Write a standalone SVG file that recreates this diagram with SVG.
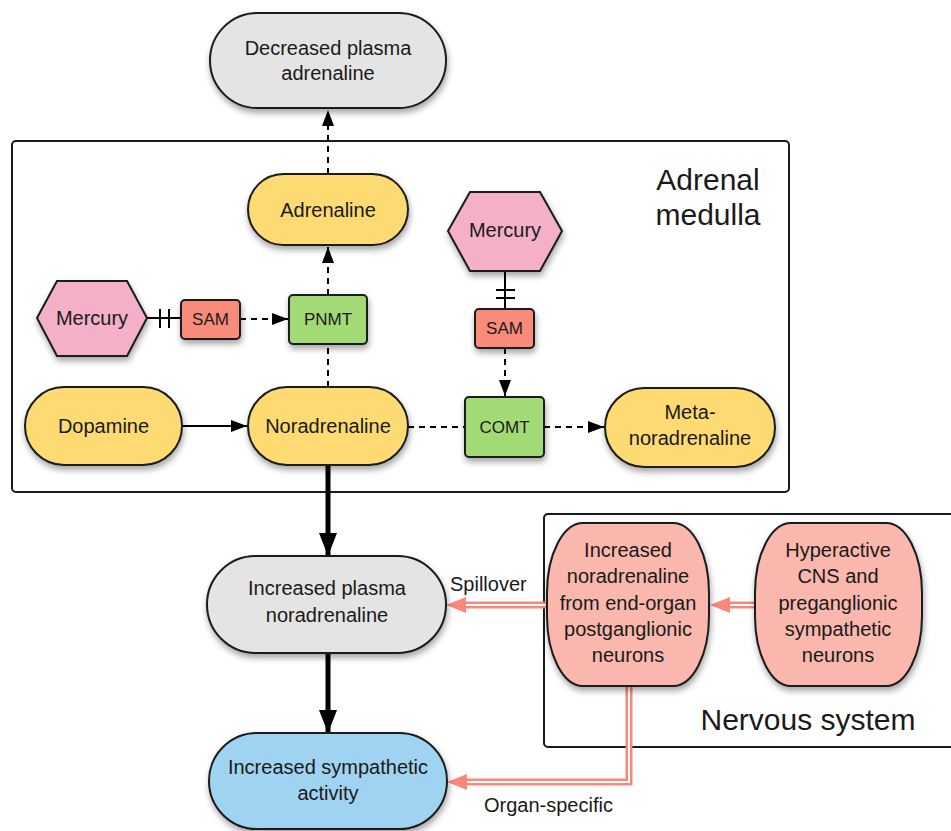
<svg xmlns="http://www.w3.org/2000/svg" width="951" height="831" viewBox="0 0 951 831">
<defs>
<filter id="sh" x="-20%" y="-20%" width="140%" height="150%">
<feDropShadow dx="1" dy="4" stdDeviation="3" flood-color="#000" flood-opacity="0.35"/>
</filter>
<marker id="ah" viewBox="0 0 16 12" refX="16" refY="6" markerWidth="16" markerHeight="12" markerUnits="userSpaceOnUse" orient="auto">
<path d="M0,0 L16,6 L0,12 z" fill="#000"/>
</marker>
<marker id="ahb" viewBox="0 0 20 20" refX="20" refY="10" markerWidth="23" markerHeight="18" markerUnits="userSpaceOnUse" orient="auto" preserveAspectRatio="none">
<path d="M0,0 L20,10 L0,20 z" fill="#000"/>
</marker>
</defs>
<style>
text{font-family:"Liberation Sans",Arial,sans-serif;fill:#1a1a1a;text-anchor:middle}
.n{font-size:20px}
.s{font-size:17px}
.big{font-size:30px}
.lbl{font-size:20px;text-anchor:start}
.node{stroke:#1a1a1a;stroke-width:2;filter:url(#sh)}
.yel{fill:#fdda72}
.gry{fill:#e4e4e4}
.pink{fill:#f3b0c8}
.sam{fill:#f98b7a}
.grn{fill:#a2da76}
.blu{fill:#9fd3f1}
.sal{fill:#f9b7ad}
.box{fill:none;stroke:#1a1a1a;stroke-width:2}
.dash{fill:none;stroke:#000;stroke-width:2;stroke-dasharray:6,5}
.sol{fill:none;stroke:#000;stroke-width:2}
.thick{fill:none;stroke:#000;stroke-width:5}
.po{fill:none;stroke:#f7887a;stroke-width:7}
.pi{fill:none;stroke:#fff;stroke-width:2}
</style>

<rect class="box" x="12" y="141" width="777" height="351" rx="4"/>
<text class="big" x="708" y="190">Adrenal</text>
<text class="big" x="708" y="225">medulla</text>
<rect class="box" x="544" y="514" width="420" height="233" rx="4"/>
<text class="big" x="808" y="730">Nervous system</text>

<g id="connectors">
<path class="dash" d="M328,174 V110" marker-end="url(#ah)"/>
<path class="dash" d="M328,387 V344"/>
<path class="dash" d="M328,295 V247" marker-end="url(#ah)"/>
<path class="sol" d="M147,318 H181"/>
<path class="sol" d="M160,309 V328 M169,309 V328"/>
<path class="dash" d="M240,319 H288" marker-end="url(#ah)"/>
<path class="sol" d="M182,426 H247" marker-end="url(#ah)"/>
<path class="dash" d="M408,427 H465"/>
<path class="dash" d="M544,427 H604" marker-end="url(#ah)"/>
<path class="sol" d="M505,271 V309"/>
<path class="sol" d="M496,290 H515 M496,298 H515"/>
<path class="dash" d="M505,348 V396" marker-end="url(#ah)"/>
<path class="thick" d="M328,465 V556" marker-end="url(#ahb)"/>
<path class="thick" d="M328,653 V733" marker-end="url(#ahb)"/>
<path class="po" d="M547,605 H462"/>
<path class="pi" d="M547,605 H462"/>
<path d="M446,605 L466,597 L466,613 z" fill="#f7887a"/>
<path class="po" d="M755,605 H725"/>
<path class="pi" d="M755,605 H725"/>
<path d="M710,605 L730,597 L730,613 z" fill="#f7887a"/>
<path class="po" d="M629,686 V782 H463"/>
<path class="pi" d="M629,686 V782 H463"/>
<path d="M447,782 L467,774 L467,790 z" fill="#f7887a"/>
<text class="lbl" x="450" y="591">Spillover</text>
<text class="lbl" x="484" y="812">Organ-specific</text>
</g>

<g id="decreased-plasma-adrenaline">
<rect class="node gry" x="210" y="13" width="236" height="95" rx="47.5"/>
<text class="n" x="328" y="55">Decreased plasma</text>
<text class="n" x="328" y="80">adrenaline</text>
</g>
<g id="adrenaline">
<rect class="node yel" x="248" y="174" width="160" height="71" rx="35.5"/>
<text class="n" x="328" y="217">Adrenaline</text>
</g>
<g id="mercury-left">
<polygon class="node pink" points="37,318 57,281 127,281 147,318 127,356 57,356"/>
<text class="n" x="92" y="325">Mercury</text>
</g>
<g id="sam-left">
<rect class="node sam" x="181" y="300" width="59" height="39" rx="4"/>
<text class="s" x="210.5" y="325">SAM</text>
</g>
<g id="pnmt">
<rect class="node grn" x="289" y="295" width="78" height="49" rx="4"/>
<text class="s" x="328" y="325">PNMT</text>
</g>
<g id="dopamine">
<rect class="node yel" x="25" y="387" width="157" height="78" rx="39"/>
<text class="n" x="103.5" y="433">Dopamine</text>
</g>
<g id="noradrenaline">
<rect class="node yel" x="248" y="387" width="160" height="78" rx="39"/>
<text class="n" x="328" y="433">Noradrenaline</text>
</g>
<g id="mercury-right">
<polygon class="node pink" points="448,231 470,192 540,192 562,231 540,271 470,271"/>
<text class="n" x="505" y="237">Mercury</text>
</g>
<g id="sam-right">
<rect class="node sam" x="475" y="309" width="59" height="39" rx="4"/>
<text class="s" x="504.5" y="334">SAM</text>
</g>
<g id="comt">
<rect class="node grn" x="465" y="397" width="79" height="60" rx="4"/>
<text class="s" x="504.5" y="433">COMT</text>
</g>
<g id="meta-noradrenaline">
<rect class="node yel" x="605" y="388" width="170" height="79" rx="39.5"/>
<text class="n" x="690" y="419">Meta-</text>
<text class="n" x="690" y="445">noradrenaline</text>
</g>
<g id="increased-plasma-noradrenaline">
<rect class="node gry" x="207" y="556" width="239" height="97" rx="48.5"/>
<text class="n" x="327" y="595">Increased plasma</text>
<text class="n" x="327" y="622">noradrenaline</text>
</g>
<g id="increased-sympathetic-activity">
<rect class="node blu" x="209" y="733" width="238" height="96" rx="48"/>
<text class="n" x="328" y="774">Increased sympathetic</text>
<text class="n" x="328" y="800">activity</text>
</g>
<g id="increased-noradrenaline-neurons">
<rect class="node sal" x="547" y="523" width="162" height="163" rx="36" ry="70"/>
<text class="n" x="628" y="557">Increased</text>
<text class="n" x="628" y="583">noradrenaline</text>
<text class="n" x="628" y="610">from end-organ</text>
<text class="n" x="628" y="636">postganglionic</text>
<text class="n" x="628" y="662">neurons</text>
</g>
<g id="hyperactive-cns">
<rect class="node sal" x="755" y="523" width="167" height="163" rx="36" ry="70"/>
<text class="n" x="838" y="557">Hyperactive</text>
<text class="n" x="838" y="583">CNS and</text>
<text class="n" x="838" y="610">preganglionic</text>
<text class="n" x="838" y="636">sympathetic</text>
<text class="n" x="838" y="662">neurons</text>
</g>
</svg>
